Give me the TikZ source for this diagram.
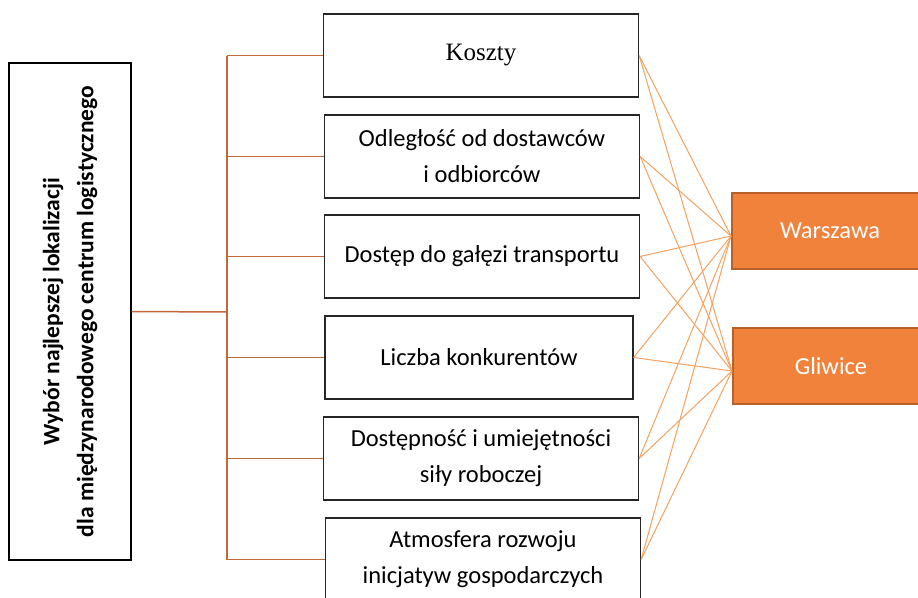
\documentclass[tikz,border=0pt]{standalone}
\usepackage{fontspec}
\setmainfont{Carlito}
\newfontfamily\serifbox{Liberation Serif}
\definecolor{trunkline}{HTML}{C4683A}
\definecolor{crossline}{HTML}{F4A261}
\definecolor{cityfill}{HTML}{F0823C}
\definecolor{cityedge}{HTML}{B8602A}

\begin{document}
\begin{tikzpicture}[x=1pt, y=-1pt,
	every node/.style={font=\fontsize{24.5}{36}\selectfont},
	crit/.style={draw=black!85, line width=1.3pt, fill=white, minimum width=315pt, minimum height=83pt, align=center},
	city/.style={draw=cityedge, line width=2pt, fill=cityfill, text=white, minimum width=196pt, minimum height=76pt},
	branch/.style={draw=trunkline, line width=1.5pt},
	link/.style={draw=crossline, line width=1pt}]
	\path[fill=white, use as bounding box] (0,0) rectangle (918,597);
	% goal of the decision
	\node[draw=black, line width=1.3pt, rotate=90, minimum width=497pt, minimum height=122pt, align=center, font=\bfseries\fontsize{23.5}{34}\selectfont] (goal) at (70,311.5) {Wybór najlepszej lokalizacji\\dla międzynarodowego centrum logistycznego};
	% criteria
	\node[crit, font=\serifbox\fontsize{25}{36}\selectfont] (koszty) at (481,55.5) {Koszty};
	\node[crit] (odleglosc) at (482,156.5) {Odległość od dostawców\\i odbiorców};
	\node[crit] (dostep) at (482,256.5) {Dostęp do gałęzi transportu};
	\node[crit, minimum width=308pt] (liczba) at (479,357.5) {Liczba konkurentów};
	\node[crit] (sila) at (481,458.5) {Dostępność i umiejętności\\siły roboczej};
	\node[crit] (atmosfera) at (483,559.5) {Atmosfera rozwoju\\inicjatyw gospodarczych};
	% variants
	\node[city] (warszawa) at (830,231) {Warszawa};
	\node[city] (gliwice) at (831,366) {Gliwice};
	% tree
	\coordinate (trunk) at (227,312);
	\draw[branch] (goal.south) -- (trunk);
	\draw[branch] (koszty.west -| trunk) -- (atmosfera.west -| trunk);
	\foreach \n in {koszty,odleglosc,dostep,liczba,sila,atmosfera}
		\draw[branch] (\n.west -| trunk) -- (\n.west);
	% every criterion to every city
	\foreach \n in {koszty,odleglosc,dostep,liczba,sila,atmosfera}
		\foreach \c in {warszawa,gliwice}
			\draw[link] (\n.east) -- ([yshift=-5pt]\c.west);
\end{tikzpicture}
\end{document}
